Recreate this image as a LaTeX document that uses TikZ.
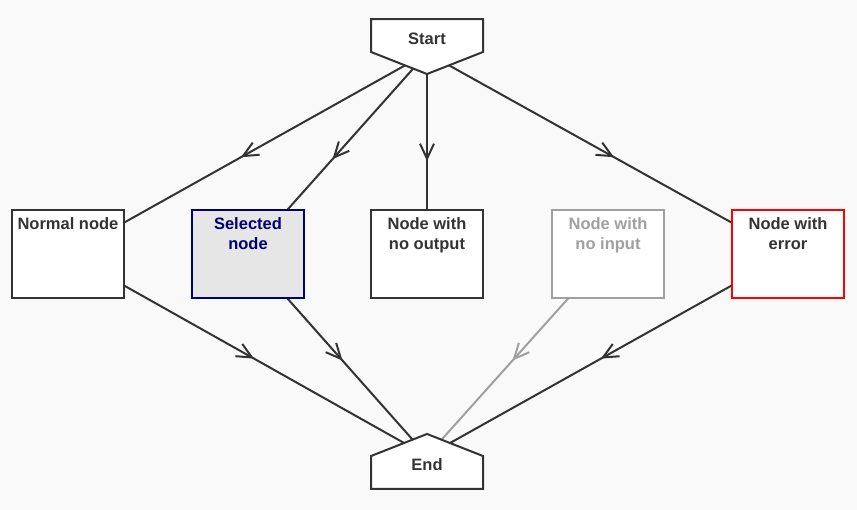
\documentclass[tikz,border=0pt]{standalone}
\usepackage{fontspec}
\setmainfont{Liberation Sans}
\usetikzlibrary{shapes.symbols,arrows.meta,decorations.markings,backgrounds}
\definecolor{bgcol}{RGB}{249,249,249}
\definecolor{ink}{RGB}{51,51,51}
\definecolor{selfill}{RGB}{230,230,230}
\definecolor{selink}{RGB}{0,0,115}
\definecolor{faded}{RGB}{160,160,160}
\tikzset{
  box/.style={draw=ink, fill=white, line width=2pt, minimum width=112pt, minimum height=88pt, inner sep=0pt},
  boxtext/.style={anchor=north, align=center, font=\fontsize{16.5}{20}\selectfont\bfseries, text=ink, inner sep=0pt, yshift=-8pt},
  term/.style={shape=signal, signal from=nowhere, signal pointer angle=137, draw=ink, fill=white, line width=2pt, text width=112pt, align=center, minimum height=55pt, inner sep=0pt, font=\fontsize{16.5}{20}\selectfont\bfseries, text=ink},
  edge/.style={draw=ink, line width=2pt, postaction=decorate,
    decoration={markings, mark=at position 0.5 with {\pgftransformxshift{7.5pt}\arrow{Straight Barb[length=15pt,width=14pt]}}}},
}
\begin{document}
\begin{tikzpicture}[x=1pt,y=-1pt]
\useasboundingbox (0,0) rectangle (857,510);
% start and end
\node[term, signal to=south, text height=19pt, text depth=0pt] (start) at (427,35.5) {Start};
\node[term, signal to=north, text height=12pt, text depth=15pt] (end) at (427,472.5) {End};
% the five kinds of node
\node[box, label={[boxtext]north:Normal node}] (normal) at (68,254) {};
\node[box, fill=selfill, draw=selink, label={[boxtext, text=selink]north:{Selected\\node}}] (selected) at (248,254) {};
\node[box, label={[boxtext]north:{Node with\\no output}}] (nooutput) at (427,254) {};
\node[box, draw=faded, label={[boxtext, text=faded]north:{Node with\\no input}}] (noinput) at (608,254) {};
\node[box, draw=red, label={[boxtext]north:{Node with\\error}}] (error) at (788,254) {};
% connectors behind the nodes
\begin{scope}[on background layer]
\fill[bgcol] (0,0) rectangle (857,510);
\foreach \n in {normal,selected,nooutput,error} \draw[edge] ([yshift=22pt]start.south) -- (\n.center);
\foreach \n in {normal,selected,error} \draw[edge] (\n.center) -- ([yshift=-23pt]end.north);
\draw[edge, draw=faded] (noinput.center) -- ([yshift=-23pt]end.north);
\end{scope}
\end{tikzpicture}
\end{document}
